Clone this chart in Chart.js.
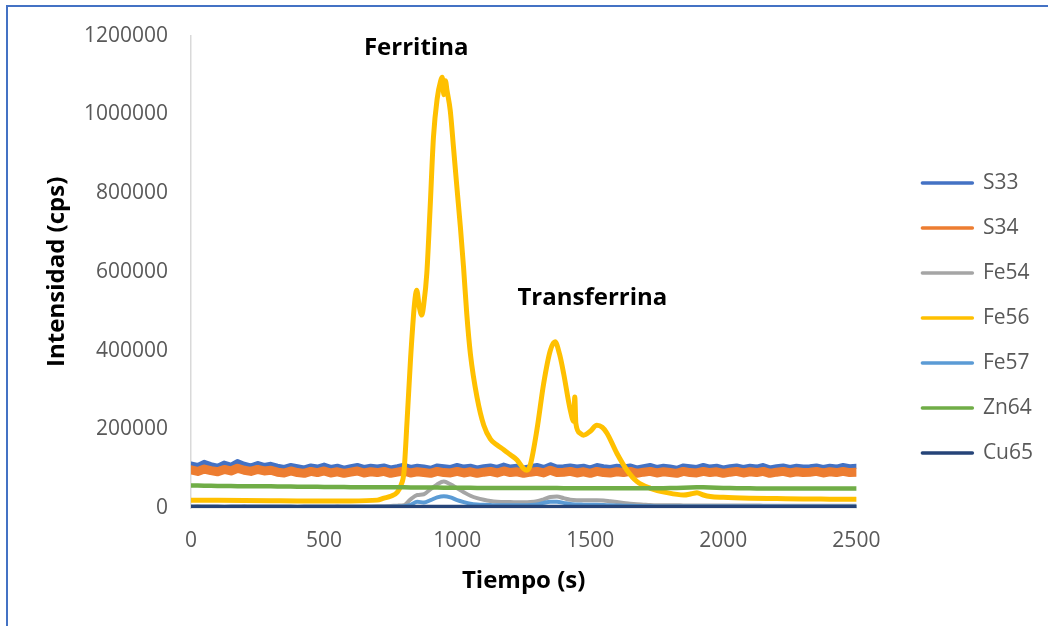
<!DOCTYPE html>
<html><head><meta charset="utf-8">
<script src="https://cdn.jsdelivr.net/npm/chart.js@4.4.1/dist/chart.umd.min.js"></script>
<style>
html,body{margin:0;padding:0;background:#fff;overflow:hidden;}
#frame{position:absolute;left:6px;top:5px;width:1100px;height:700px;border-left:2px solid #4472C4;border-top:2px solid #4472C4;}
#wrap{position:absolute;left:0;top:0;width:1048px;height:626px;}
</style></head><body>
<div id="frame"></div>
<div id="wrap"><canvas id="c" width="1048" height="626"></canvas></div>
<script>
// ---- DATA ----
const timeS = [
0,25,50,75,100,125,150,175,200,225,
250,275,300,325,350,375,400,425,450,475,
500,525,550,575,600,625,650,675,700,725,
750,775,800,825,850,875,900,925,950,975,
1000,1025,1050,1075,1100,1125,1150,1175,1200,1225,
1250,1275,1300,1325,1350,1375,1400,1425,1450,1475,
1500,1525,1550,1575,1600,1625,1650,1675,1700,1725,
1750,1775,1800,1825,1850,1875,1900,1925,1950,1975,
2000,2025,2050,2075,2100,2125,2150,2175,2200,2225,
2250,2275,2300,2325,2350,2375,2400,2425,2450,2475,
2500];
const s33 = [
112000,108000,116000,110000,106000,114000,109000,118000,111000,107000,
113000,108000,111000,106000,103000,108000,105000,102000,107000,104000,
109000,103000,106000,101000,105000,108000,103000,106000,104000,107000,
102000,105000,109000,103000,106000,104000,101000,107000,105000,103000,
108000,104000,106000,102000,105000,107000,103000,109000,104000,106000,
102000,105000,108000,103000,110000,104000,105000,107000,104000,106000,
102000,108000,105000,103000,106000,104000,107000,102000,105000,108000,
103000,106000,104000,101000,107000,105000,103000,108000,104000,106000,
102000,105000,107000,103000,106000,104000,108000,102000,105000,107000,
103000,106000,104000,105000,107000,103000,106000,104000,108000,105000,
106000];
const s34 = [
97000,93000,99000,95000,92000,98000,94000,101000,96000,93000,
98000,94000,96000,91000,89000,94000,90000,88000,93000,90000,
94000,89000,92000,88000,91000,94000,89000,92000,90000,93000,
88000,91000,94000,89000,92000,90000,88000,93000,90000,89000,
93000,89000,92000,88000,91000,93000,89000,94000,90000,92000,
88000,91000,93000,89000,96000,90000,91000,93000,89000,92000,
88000,93000,90000,89000,92000,90000,93000,88000,91000,93000,
89000,92000,90000,88000,93000,90000,89000,93000,90000,92000,
88000,91000,93000,89000,92000,90000,93000,88000,91000,93000,
89000,92000,90000,91000,93000,89000,92000,90000,93000,90000,
91000];
const fe54 = [
4000,4200,3900,4100,4000,3900,4100,4000,4200,3900,
4000,4100,3900,4000,4100,4000,3900,4100,4000,3900,
4100,4000,4200,3900,4000,4100,3900,4000,4200,4500,
5000,6000,7000,22000,33000,35000,48000,60000,67000,60000,
50000,40000,31000,25000,21000,18000,16000,15000,15000,14500,
14500,15000,17000,22000,28000,29000,25000,21000,20000,20000,
20000,20000,19000,17000,15000,13000,11000,9500,8500,7500,
7000,7000,6800,6800,6600,6600,6500,6500,6400,6400,
6300,6300,6200,6200,6100,6100,6000,6000,6000,6000,
6000,6000,6000,6000,6000,6000,6000,6000,6000,6000,
6000];
const timeFe56 = [
0,100,200,300,400,500,600,700,
725,750,775,790,800,
812,825,840,848,858,
867,875,886,898,911,
925,938,944,950,956,
962,974,987,999,1012,
1024,1036,1050,1075,1100,
1125,1150,1175,1200,1225,
1250,1262,1275,1300,1325,
1350,1368,1385,1400,1425,
1438,1442,1446,1462,1475,
1500,1525,1545,1563,1600,
1638,1676,1726,1788,1851,
1880,1901,1925,1951,2000,
2100,2200,2300,2400,2500];
const fe56 = [
20000,19500,19000,18500,18000,18000,18000,20000,
25000,30000,40000,60000,90000,
223000,380000,520000,553000,510000,
490000,520000,596000,756000,942000,
1040000,1085000,1094000,1050000,1085000,
1060000,1010000,910000,815000,715000,
612000,494000,390000,280000,210000,
175000,160000,148000,135000,122000,
100000,96000,110000,200000,316000,
400000,422000,390000,342000,249000,
220000,282000,215000,190000,185000,
195000,210000,205000,190000,139000,
96000,67000,50000,39000,33000,
36000,39000,33000,29000,27000,
25000,24000,23000,22500,22000];
const fe57 = [
3000,3100,2900,3000,3100,2900,3000,3100,2900,3000,
3100,2900,3000,3100,2900,3000,3100,2900,3000,3100,
2900,3000,3100,2900,3000,3100,2900,3000,3100,3200,
3400,3800,4500,8000,16000,14000,20000,27000,30000,27000,
20000,15000,11000,9000,8000,7500,7000,7000,7000,7000,
7000,7500,9000,13000,16000,16000,13000,10000,9000,8500,
8000,8000,7500,7000,6500,6000,5500,5000,4500,4200,
4000,4000,4000,4000,4000,4000,4000,4000,4000,4000,
4000,4000,4000,4000,4000,4000,4000,4000,4000,4000,
4000,4000,4000,4000,4000,4000,4000,4000,4000,4000,
4000];
const zn64 = [
57000,57000,56500,56500,56000,56000,56000,55500,55500,55500,
55000,55000,55000,54500,54500,54500,54000,54000,54000,54000,
53500,53500,53500,53500,53000,53000,53000,53000,53000,52500,
52500,52500,52500,52000,52000,52000,52000,52000,51500,51500,
51500,51500,51500,51000,51000,51000,51000,51000,51000,50500,
50500,50500,50500,50500,50500,50500,50000,50000,50000,50000,
50000,50000,50000,50000,50000,50000,50000,50000,50000,50000,
50000,50000,50500,51000,51500,52000,52500,52500,52000,51500,
51000,50500,50000,50000,50000,49500,49500,49500,49500,49500,
49500,49500,49500,49500,49500,49500,49500,49500,49500,49500,
49500];
const cu65 = [
3000,3200,2900,3100,3000,2800,3100,3000,3200,2900,
3000,3100,2900,3000,3200,3000,2800,3100,3000,2900,
3100,3000,3200,2900,3000,3100,2900,3000,3200,3000,
2900,3100,3000,3000,3200,3300,3100,3000,3200,3100,
3000,2900,3100,3000,2900,3000,3100,2900,3000,3000,
3100,2900,3000,3200,3100,3200,3000,2900,3000,3100,
2900,3000,3100,3000,2900,3000,3100,2900,3000,3100,
3000,2900,3000,3100,3000,2900,3100,3000,2900,3000,
3100,3000,2900,3000,3100,3000,2900,3000,3100,3000,
2900,3000,3100,3000,2900,3100,3000,2900,3000,3100,
3000];
const xTickValues = [0,500,1000,1500,2000,2500];
const yTickValues = [0,200000,400000,600000,800000,1000000,1200000];
const peakLabels = ['Ferritina','Transferrina'];
const peakLabelAt = [[846,1167000],[1508,533000]];

// ---- STYLE ----
const FONT = "'Open Sans', sans-serif";
const seriesDefs = [
  {label:'S33',  t:timeS,    v:s33,  color:'#4472C4', w:5,   smooth:false},
  {label:'S34',  t:timeS,    v:s34,  color:'#ED7D31', w:9,   smooth:false},
  {label:'Fe54', t:timeS,    v:fe54, color:'#A5A5A5', w:4,   smooth:true},
  {label:'Fe56', t:timeFe56, v:fe56, color:'#FFC000', w:5,   smooth:true},
  {label:'Fe57', t:timeS,    v:fe57, color:'#5B9BD5', w:4,   smooth:true},
  {label:'Zn64', t:timeS,    v:zn64, color:'#70AD47', w:4.5, smooth:false},
  {label:'Cu65', t:timeS,    v:cu65, color:'#264478', w:4,   smooth:false}
];
const datasets = seriesDefs.map((s, i) => ({
  label: s.label,
  data: s.t.map((t, k) => ({x: t, y: s.v[k]})),
  borderColor: s.color,
  backgroundColor: s.color,
  borderWidth: s.w,
  pointRadius: 0,
  fill: false,
  tension: s.smooth ? 0.4 : 0,
  cubicInterpolationMode: s.smooth ? 'monotone' : 'default',
  borderJoinStyle: 'round',
  borderCapStyle: 'round',
  order: seriesDefs.length - 1 - i
}));

const peakLabelPlugin = {
  id: 'peakLabels',
  afterDatasetsDraw(chart) {
    const {ctx, scales: {x, y}} = chart;
    ctx.save();
    ctx.font = 'bold 24px ' + FONT;
    ctx.fillStyle = '#000';
    ctx.textAlign = 'center';
    ctx.textBaseline = 'middle';
    peakLabels.forEach((txt, i) => {
      ctx.fillText(txt, x.getPixelForValue(peakLabelAt[i][0]), y.getPixelForValue(peakLabelAt[i][1]));
    });
    ctx.restore();
  }
};

new Chart(document.getElementById('c'), {
  type: 'line',
  data: {datasets},
  options: {
    responsive: false,
    animation: false,
    devicePixelRatio: 1,
    layout: {padding: {left: 43, top: 35, right: 5, bottom: 33}},
    scales: {
      x: {
        type: 'linear', min: 0, max: 2500,
        afterBuildTicks: s => { s.ticks = xTickValues.map(v => ({value: v})); },
        afterFit: s => { s.height = 85; },
        ticks: {font: {family: FONT, size: 21}, color: '#595959', padding: 20, maxRotation: 0, callback: v => String(v)},
        grid: {display: false, drawTicks: false},
        border: {display: true, color: '#D9D9D9', width: 1.5},
        title: {display: true, text: 'Tiempo (s)', color: '#000', font: {family: FONT, size: 24, weight: 'bold', lineHeight: 1.0}, padding: {top: 0, bottom: 0}}
      },
      y: {
        type: 'linear', min: 0, max: 1200000,
        afterBuildTicks: s => { s.ticks = yTickValues.map(v => ({value: v})); },
        afterFit: s => { s.width = 148; },
        ticks: {font: {family: FONT, size: 21}, color: '#595959', padding: 23, callback: v => String(v)},
        grid: {display: false, drawTicks: false},
        border: {display: true, color: '#D9D9D9', width: 1.5},
        title: {display: true, text: 'Intensidad (cps)', color: '#000', font: {family: FONT, size: 24, weight: 'bold'}, padding: {top: 0, bottom: 3}}
      },
      yPad: {
        type: 'linear', position: 'right', display: true,
        grid: {display: false, drawTicks: false}, border: {display: false}, ticks: {display: false},
        afterFit: s => { s.width = 42; }
      }
    },
    plugins: {
      legend: {
        position: 'right',
        title: {display: true, text: ' ', font: {size: 8, lineHeight: 1}, padding: 0},
        labels: {
          font: {family: FONT, size: 21},
          color: '#595959',
          usePointStyle: true,
          pointStyle: 'line',
          pointStyleWidth: 50,
          padding: 24,
          generateLabels(chart) {
            const items = Chart.defaults.plugins.legend.labels.generateLabels(chart);
            items.forEach(it => { it.lineWidth = 3.5; it.lineCap = 'round'; });
            return items;
          },
          sort: (a, b) => a.datasetIndex - b.datasetIndex
        }
      },
      tooltip: {enabled: false}
    }
  },
  plugins: [peakLabelPlugin]
});
</script>
</body></html>
